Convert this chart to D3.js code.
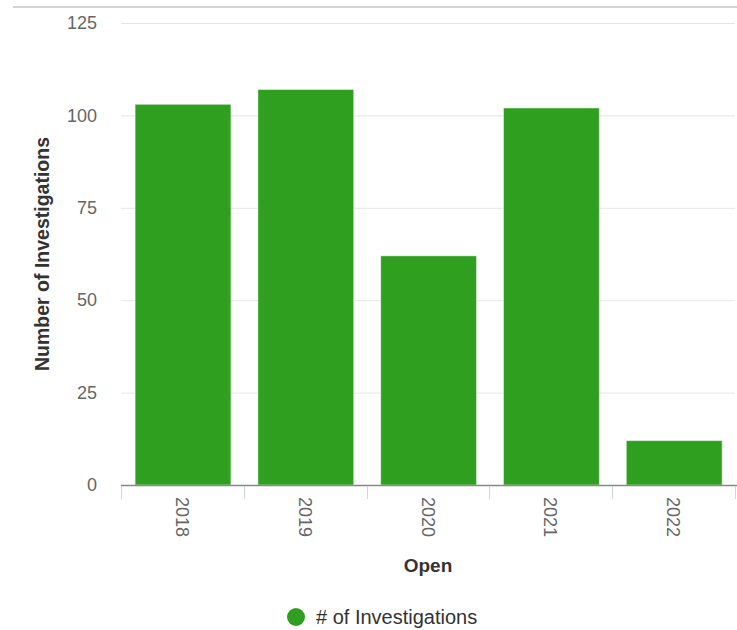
<!DOCTYPE html>
<html lang="en">
<head>
<meta charset="UTF-8">
<title>Investigations</title>
<script src="https://cdn.jsdelivr.net/npm/d3@7"></script>
<style>
  body { margin: 0; background: #fff; }
  svg { display: block; font-family: "Liberation Sans", Arial, sans-serif; }
</style>
</head>
<body>
<script>
const years = ["2018", "2019", "2020", "2021", "2022"];
const investigations = [103, 107, 62, 102, 12];
const yTicks = [0, 25, 50, 75, 100, 125];
const seriesName = "# of Investigations";
const barColor = "#2e9f1f";

const width = 737, height = 630;
const margin = { top: 23, right: 2, bottom: 145, left: 121 };
const plotW = width - margin.left - margin.right;
const plotH = height - margin.top - margin.bottom;

const svg = d3.select("body").append("svg")
  .attr("width", width)
  .attr("height", height);

// top border line
svg.append("line")
  .attr("x1", 13).attr("x2", width)
  .attr("y1", 7).attr("y2", 7)
  .attr("stroke", "#d4d4d4").attr("stroke-width", 2);

const x = d3.scaleBand().domain(years).range([margin.left, margin.left + plotW]).padding(0);
const y = d3.scaleLinear().domain([0, 125]).range([margin.top + plotH, margin.top]);

// gridlines
svg.append("g")
  .selectAll("line")
  .data(yTicks.filter(t => t > 0))
  .enter().append("line")
  .attr("x1", margin.left).attr("x2", margin.left + plotW)
  .attr("y1", d => y(d) + 0.5).attr("y2", d => y(d) + 0.5)
  .attr("stroke", "#e6e6e6").attr("stroke-width", 1);

// y axis labels
const yAxis = svg.append("g")
  .attr("transform", `translate(${margin.left},0)`)
  .call(d3.axisLeft(y).tickValues(yTicks).tickSize(0).tickPadding(24));
yAxis.select(".domain").remove();
yAxis.selectAll("text")
  .attr("fill", "#666").attr("font-size", 18)
  .attr("font-family", "Liberation Sans, Arial, sans-serif");

svg.append("text")
  .attr("transform", `translate(49,${margin.top + plotH / 2}) rotate(-90)`)
  .attr("text-anchor", "middle")
  .attr("fill", "#333").attr("font-size", 19.5).attr("font-weight", "bold")
  .text("Number of Investigations");

// bars
const bw = x.bandwidth();
svg.append("g")
  .selectAll("rect")
  .data(years.map((yr, i) => ({ yr, v: investigations[i] })))
  .enter().append("rect")
  .attr("x", d => x(d.yr) + bw * 0.115)
  .attr("width", bw * 0.78)
  .attr("y", d => y(d.v))
  .attr("height", d => y(0) - y(d.v))
  .attr("fill", barColor)
  .attr("stroke", "#ffffff").attr("stroke-opacity", 0.45).attr("stroke-width", 1);

// x axis
const xAxis = svg.append("g")
  .attr("transform", `translate(0,${margin.top + plotH})`)
  .call(d3.axisBottom(x).tickSize(0).tickPadding(0));
xAxis.select(".domain")
  .attr("d", `M${margin.left},0.5H${width}`)
  .attr("stroke", "#888").attr("stroke-width", 1.5);
xAxis.selectAll(".tick line").remove();
xAxis.selectAll(".tick text")
  .attr("fill", "#666").attr("font-size", 18)
  .attr("font-family", "Liberation Sans, Arial, sans-serif")
  .attr("text-anchor", "start")
  .attr("dy", "0.35em")
  .attr("transform", "translate(0,12) rotate(90)");

// x tick marks at category boundaries
svg.append("g")
  .selectAll("line")
  .data(years.concat(["end"]))
  .enter().append("line")
  .attr("x1", (d, i) => Math.round(margin.left + i * bw) + 0.5)
  .attr("x2", (d, i) => Math.round(margin.left + i * bw) + 0.5)
  .attr("y1", margin.top + plotH + 1)
  .attr("y2", margin.top + plotH + 14)
  .attr("stroke", "#ccd6eb");

svg.append("text")
  .attr("x", margin.left + plotW / 2)
  .attr("y", 572)
  .attr("text-anchor", "middle")
  .attr("fill", "#333").attr("font-size", 19).attr("font-weight", "bold")
  .text("Open");

// legend
const legend = svg.append("g").attr("transform", "translate(296,617)");
legend.append("circle").attr("r", 9).attr("fill", barColor);
legend.append("text")
  .attr("x", 20).attr("y", 7)
  .attr("fill", "#333").attr("font-size", 20)
  .text(seriesName);
</script>
</body>
</html>
